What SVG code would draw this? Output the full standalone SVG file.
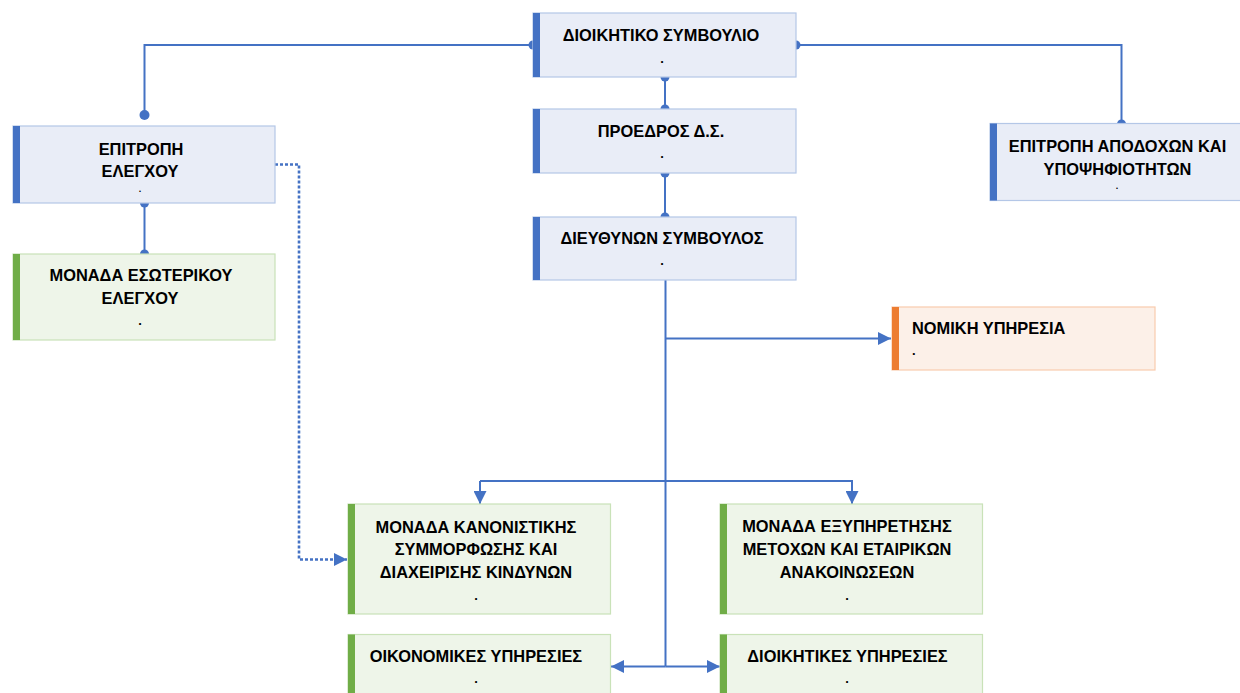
<svg xmlns="http://www.w3.org/2000/svg" width="1240" height="693" viewBox="0 0 1240 693">
<style>
.t{font-family:"Liberation Sans",Arial,sans-serif;font-weight:bold;font-size:16.4px;fill:#000;text-anchor:middle}
.d{font-family:"Liberation Sans",Arial,sans-serif;font-weight:bold;font-size:13px;fill:#000;text-anchor:middle}
.l{text-anchor:start}
.bb{fill:#E9EDF7;stroke:#B4C7E7;stroke-width:1.2}
.gb{fill:#EEF5E9;stroke:#C9E2B8;stroke-width:1.2}
.ob{fill:#FCF0E8;stroke:#F8CBAD;stroke-width:1.2}
.ba{fill:#4472C4}
.ga{fill:#70AD47}
.oa{fill:#ED7D31}
.c{fill:none;stroke:#4472C4;stroke-width:2}
.dot{fill:none;stroke:#4472C4;stroke-width:2.6;stroke-dasharray:3 2}
.e{fill:#4472C4}
</style>
<defs>
<marker id="arr" viewBox="0 0 13 13" refX="13" refY="6.5" markerWidth="13" markerHeight="13" markerUnits="userSpaceOnUse" orient="auto">
<path d="M0,0 L13,6.5 L0,13 Z" fill="#4472C4"/>
</marker>
</defs>
<g id="connectors">
<path class="c" d="M533,45 H144.5 V115"/>
<circle class="e" cx="533" cy="45" r="4.5"/>
<circle class="e" cx="144.5" cy="115" r="5"/>
<path class="c" d="M796,45 H1121.5 V124"/>
<circle class="e" cx="796" cy="45" r="4.5"/>
<circle class="e" cx="1121.5" cy="124" r="4.5"/>
<path class="c" d="M665,77 V109"/>
<circle class="e" cx="665" cy="77" r="4.5"/>
<circle class="e" cx="665" cy="109" r="4.5"/>
<path class="c" d="M665,173 V217"/>
<circle class="e" cx="665" cy="173" r="4.5"/>
<circle class="e" cx="665" cy="217" r="4.5"/>
<path class="c" d="M144.5,203 V254"/>
<circle class="e" cx="144.5" cy="203" r="4.5"/>
<circle class="e" cx="144.5" cy="254" r="4.5"/>
<path class="dot" d="M275,164.5 H299 V559.5 H347" marker-end="url(#arr)"/>
<path class="c" d="M665.5,280 V666.5"/>
<path class="c" d="M665.5,338.5 H891" marker-end="url(#arr)"/>
<path class="c" d="M480,481 H852 V504" marker-end="url(#arr)"/>
<path class="c" d="M480,481 V504" marker-end="url(#arr)"/>
<path class="c" d="M665.5,666.5 H611" marker-end="url(#arr)"/>
<path class="c" d="M665.5,666.5 H720" marker-end="url(#arr)"/>
</g>
<g id="n-ds">
<rect class="bb" x="533" y="13" width="263" height="64"/>
<rect class="ba" x="533" y="13" width="7" height="64"/>
<text class="t" x="661" y="41">ΔΙΟΙΚΗΤΙΚΟ ΣΥΜΒΟΥΛΙΟ</text>
<text class="d" x="662" y="63">.</text>
</g>
<g id="n-proedros">
<rect class="bb" x="533" y="109" width="263" height="64"/>
<rect class="ba" x="533" y="109" width="7" height="64"/>
<text class="t" x="661" y="137">ΠΡΟΕΔΡΟΣ Δ.Σ.</text>
<text class="d" x="662" y="158">.</text>
</g>
<g id="n-ceo">
<rect class="bb" x="533" y="217" width="263" height="63"/>
<rect class="ba" x="533" y="217" width="7" height="63"/>
<text class="t" x="662" y="244">ΔΙΕΥΘΥΝΩΝ ΣΥΜΒΟΥΛΟΣ</text>
<text class="d" x="662" y="265">.</text>
</g>
<g id="n-audit-committee">
<rect class="bb" x="13" y="126" width="262" height="77"/>
<rect class="ba" x="13" y="126" width="7" height="77"/>
<text class="t" x="141" y="154.5">ΕΠΙΤΡΟΠΗ</text>
<text class="t" x="140" y="177">ΕΛΕΓΧΟΥ</text>
<text class="d" x="140" y="192" style="font-size:9px">.</text>
</g>
<g id="n-remuneration">
<rect class="bb" x="990" y="123.5" width="262" height="77"/>
<rect class="ba" x="990" y="123.5" width="7" height="77"/>
<text class="t" x="1117.5" y="152">ΕΠΙΤΡΟΠΗ ΑΠΟΔΟΧΩΝ ΚΑΙ</text>
<text class="t" x="1117.5" y="175">ΥΠΟΨΗΦΙΟΤΗΤΩΝ</text>
<text class="d" x="1117" y="189" style="font-size:9px">.</text>
</g>
<g id="n-internal-audit">
<rect class="gb" x="13" y="254" width="262" height="86"/>
<rect class="ga" x="13" y="254" width="7" height="86"/>
<text class="t" x="141" y="281">ΜΟΝΑΔΑ ΕΣΩΤΕΡΙΚΟΥ</text>
<text class="t" x="140" y="303.5">ΕΛΕΓΧΟΥ</text>
<text class="d" x="140" y="325">.</text>
</g>
<g id="n-legal">
<rect class="ob" x="892" y="307" width="263" height="63"/>
<rect class="oa" x="892" y="307" width="7" height="63"/>
<text class="t l" x="912" y="333.5">ΝΟΜΙΚΗ ΥΠΗΡΕΣΙΑ</text>
<text class="d l" x="912" y="355">.</text>
</g>
<g id="n-compliance">
<rect class="gb" x="348" y="504" width="262.5" height="110"/>
<rect class="ga" x="348" y="504" width="7" height="110"/>
<text class="t" x="476" y="532.5">ΜΟΝΑΔΑ ΚΑΝΟΝΙΣΤΙΚΗΣ</text>
<text class="t" x="476" y="555">ΣΥΜΜΟΡΦΩΣΗΣ ΚΑΙ</text>
<text class="t" x="476" y="578">ΔΙΑΧΕΙΡΙΣΗΣ ΚΙΝΔΥΝΩΝ</text>
<text class="d" x="476" y="600">.</text>
</g>
<g id="n-shareholders">
<rect class="gb" x="720" y="504" width="262.5" height="110"/>
<rect class="ga" x="720" y="504" width="7" height="110"/>
<text class="t" x="847" y="532">ΜΟΝΑΔΑ ΕΞΥΠΗΡΕΤΗΣΗΣ</text>
<text class="t" x="847" y="555">ΜΕΤΟΧΩΝ ΚΑΙ ΕΤΑΙΡΙΚΩΝ</text>
<text class="t" x="847" y="578">ΑΝΑΚΟΙΝΩΣΕΩΝ</text>
<text class="d" x="847" y="600">.</text>
</g>
<g id="n-financial">
<rect class="gb" x="348" y="634.5" width="262.5" height="70"/>
<rect class="ga" x="348" y="634.5" width="7" height="70"/>
<text class="t" x="476" y="662">ΟΙΚΟΝΟΜΙΚΕΣ ΥΠΗΡΕΣΙΕΣ</text>
<text class="d" x="476" y="683">.</text>
</g>
<g id="n-admin">
<rect class="gb" x="720" y="634.5" width="262.5" height="70"/>
<rect class="ga" x="720" y="634.5" width="7" height="70"/>
<text class="t" x="847.5" y="662">ΔΙΟΙΚΗΤΙΚΕΣ ΥΠΗΡΕΣΙΕΣ</text>
<text class="d" x="847" y="683">.</text>
</g>
</svg>
